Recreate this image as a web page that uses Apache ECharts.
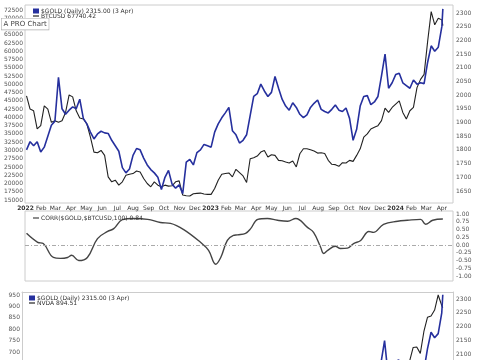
<!DOCTYPE html>
<html>
<head>
<meta charset="utf-8">
<script src="https://cdn.jsdelivr.net/npm/echarts@6/dist/echarts.min.js"></script>
<style>
html, body { margin: 0; padding: 0; background: #fff; }
#main { width: 485px; height: 360px; }
</style>
</head>
<body>
<div id="main"></div>
<script>
// weekly closes (Mondays) plus the last bar, 3 Apr 2024
var weeks = [
  '2022-01-03','2022-01-10','2022-01-17','2022-01-24','2022-01-31','2022-02-07','2022-02-14','2022-02-21','2022-02-28','2022-03-07',
  '2022-03-14','2022-03-21','2022-03-28','2022-04-04','2022-04-11','2022-04-18','2022-04-25','2022-05-02','2022-05-09','2022-05-16',
  '2022-05-23','2022-05-30','2022-06-06','2022-06-13','2022-06-20','2022-06-27','2022-07-04','2022-07-11','2022-07-18','2022-07-25',
  '2022-08-01','2022-08-08','2022-08-15','2022-08-22','2022-08-29','2022-09-05','2022-09-12','2022-09-19','2022-09-26','2022-10-03',
  '2022-10-10','2022-10-17','2022-10-24','2022-10-31','2022-11-07','2022-11-14','2022-11-21','2022-11-28','2022-12-05','2022-12-12',
  '2022-12-19','2022-12-26',
  '2023-01-02','2023-01-09','2023-01-16','2023-01-23','2023-01-30','2023-02-06','2023-02-13','2023-02-20','2023-02-27','2023-03-06',
  '2023-03-13','2023-03-20','2023-03-27','2023-04-03','2023-04-10','2023-04-17','2023-04-24','2023-05-01','2023-05-08','2023-05-15',
  '2023-05-22','2023-05-29','2023-06-05','2023-06-12','2023-06-19','2023-06-26','2023-07-03','2023-07-10','2023-07-17','2023-07-24',
  '2023-07-31','2023-08-07','2023-08-14','2023-08-21','2023-08-28','2023-09-04','2023-09-11','2023-09-18','2023-09-25','2023-10-02',
  '2023-10-09','2023-10-16','2023-10-23','2023-10-30','2023-11-06','2023-11-13','2023-11-20','2023-11-27','2023-12-04','2023-12-11',
  '2023-12-18','2023-12-25',
  '2024-01-01','2024-01-08','2024-01-15','2024-01-22','2024-01-29','2024-02-05','2024-02-12','2024-02-19','2024-02-26','2024-03-04',
  '2024-03-11','2024-03-18','2024-03-25','2024-04-01','2024-04-03'
];

var gold = [
  1800,1830,1815,1830,1792,1810,1850,1890,1905,2065,
  1950,1930,1945,1957,1950,1985,1915,1895,1865,1840,
  1858,1868,1862,1860,1835,1815,1795,1735,1716,1730,
  1780,1805,1800,1770,1745,1728,1716,1700,1655,1700,
  1725,1675,1660,1672,1640,1755,1765,1745,1790,1800,
  1820,1815,1810,1865,1895,1917,1935,1955,1870,1855,
  1825,1835,1855,1925,1995,2005,2040,2015,1995,2010,
  2068,2025,1985,1960,1945,1972,1955,1930,1918,1928,
  1955,1970,1982,1948,1940,1935,1948,1964,1945,1940,
  1953,1915,1835,1875,1960,1995,1998,1965,1975,1995,
  2070,2150,2025,2045,2075,2080,2045,2035,2025,2055,
  2040,2045,2042,2120,2180,2160,2175,2250,2315
];

var btc = [
  46500,42500,42000,36500,37500,43500,42500,38500,39000,38500,
  39000,41500,46800,46200,42000,39800,39500,38000,34000,29500,
  29300,30000,28500,22000,20500,21000,19500,20500,22500,22800,
  23000,23800,23500,21500,20000,19000,20500,19500,19000,19500,
  19200,19300,20500,20800,16500,16300,16200,16900,17000,17100,
  16800,16700,16700,18500,21000,22800,23000,23200,22000,24300,
  23300,22300,20300,27500,27800,28300,29500,30000,28000,28700,
  28500,27000,26900,26500,26200,26800,25000,29000,30500,30500,
  30200,29800,29200,29300,29100,27000,25800,25700,25200,26300,
  26200,27000,26700,28500,30500,34000,35000,36500,37000,37500,
  39000,42800,41500,43000,44000,45000,41500,39500,42000,43000,
  49000,51500,53000,63000,72000,68000,70000,69500,67740.42
];

var nvda = [
  300,270,250,230,245,250,245,235,240,215,
  235,265,275,245,220,210,190,190,170,175,
  170,190,185,160,165,155,160,155,170,175,
  185,185,185,170,150,140,135,130,122,125,
  115,125,135,140,160,160,165,170,165,175,
  152,146,
  148,168,177,200,210,215,215,232,235,230,
  255,265,275,270,270,270,275,285,285,310,
  385,400,390,425,420,420,425,455,445,465,
  445,410,435,460,485,455,440,415,435,455,
  455,415,405,450,485,490,480,465,465,490,
  480,495,
  480,545,595,610,660,720,722,694,790,852,
  858,884,950,903,894.51
];

var corrDates = [
  '2022-01-03','2022-01-25','2022-02-05','2022-02-25','2022-03-11','2022-03-25','2022-04-02','2022-04-16','2022-05-03','2022-05-23',
  '2022-06-12','2022-06-24','2022-07-11','2022-08-02','2022-08-30','2022-09-24','2022-10-14','2022-11-09','2022-12-12','2022-12-28',
  '2023-01-11','2023-01-21','2023-02-03','2023-02-15','2023-02-23','2023-03-11','2023-03-21','2023-04-04','2023-04-23','2023-05-13',
  '2023-06-02','2023-06-18','2023-07-11','2023-07-23','2023-08-06','2023-08-12','2023-08-20','2023-09-04','2023-09-14','2023-09-28',
  '2023-10-10','2023-10-24','2023-11-09','2023-11-18','2023-12-08','2024-01-05','2024-01-24','2024-02-19','2024-02-29','2024-03-14',
  '2024-04-03'
];
var corr = [
  0.38,0.09,0.05,-0.40,-0.43,-0.40,-0.33,-0.50,-0.40,0.21,
  0.44,0.53,0.82,0.86,0.83,0.73,0.70,0.50,0.09,-0.17,
  -0.62,-0.40,0.15,0.31,0.33,0.38,0.53,0.83,0.86,0.80,
  0.77,0.86,0.57,0.41,-0.07,-0.27,-0.17,-0.04,-0.11,-0.10,
  0.05,0.15,0.44,0.41,0.67,0.77,0.80,0.83,0.67,0.80,
  0.84
];

var btcTicks = [15000,17500,20000,22500,25000,27500,30000,32500,35000,37500,40000,42500,
  45000,47500,50000,52500,55000,57500,60000,62500,65000,67500,70000,72500];
var goldTicks = [1650,1700,1750,1800,1850,1900,1950,2000,2050,2100,2150,2200,2250,2300];
var corrTicks = [-1,-0.75,-0.5,-0.25,0,0.25,0.5,0.75,1];
var nvdaTicks = [700,750,800,850,900,950];
var goldLowTicks = [2100,2150,2200,2250,2300];

var goldName = '$GOLD (Daily) 2315.00 (3 Apr)';
var btcName = 'BTCUSD 67740.42';
var nvdaName = 'NVDA 894.51';
var corrName = 'CORR($GOLD,$BTCUSD,100) 0.84';

function pairs(d, v) {
    return d.map(function (t, i) { return [t, v[i]]; });
}

var font = 'DejaVu Sans';
var lineIcon = 'path://M0,0h10v2h-10z';
var edge = {show: true, lineStyle: {color: '#ccc', width: 1}};

function yAx(grid, pos, min, max, ticks, fmt, line) {
    return {
        type: 'value', gridIndex: grid, position: pos, min: min, max: max,
        axisLine: line ? edge : {show: false}, axisTick: {show: false}, splitLine: {show: false},
        axisLabel: {
            customValues: ticks, fontSize: 6, fontFamily: font, color: '#555',
            margin: pos == 'left' ? 2 : 3, formatter: fmt
        }
    };
}
var plain = function (v) { return String(v); };
var two = function (v) { return v.toFixed(2); };

var xMin = '2021-12-31', xMax = '2024-04-23';

var myChart = echarts.init(document.getElementById('main'));
var option = {
    backgroundColor: '#fff',
    animation: false,
    grid: [
        {left: 25, right: 32, top: 5, height: 198, show: true, borderColor: '#ccc', borderWidth: 1},
        {left: 25, right: 32, top: 211, height: 70, show: true, borderColor: '#ccc', borderWidth: 1},
        {left: 22, right: 32, top: 292, bottom: 0}
    ],
    legend: [
        {
            orient: 'vertical', left: 28, top: 3, itemGap: -1, itemWidth: 6, itemHeight: 5,
            textStyle: {fontSize: 6, fontFamily: font, color: '#333', lineHeight: 6, padding: [0, 0, 0, -3]},
            data: [{name: goldName, icon: 'rect'}, {name: btcName, icon: lineIcon}]
        },
        {
            orient: 'vertical', left: 28, top: 210, itemWidth: 6, itemHeight: 5,
            textStyle: {fontSize: 6, fontFamily: font, color: '#333', lineHeight: 6, padding: [0, 0, 0, -3]},
            data: [{name: corrName, icon: lineIcon}]
        },
        {
            orient: 'vertical', left: 24, top: 290, itemGap: -1, itemWidth: 6, itemHeight: 5,
            textStyle: {fontSize: 6, fontFamily: font, color: '#333', lineHeight: 6, padding: [0, 0, 0, -3]},
            data: [{name: goldName, icon: 'rect'}, {name: nvdaName, icon: lineIcon}]
        }
    ],
    xAxis: [
        {
            type: 'time', gridIndex: 0, min: xMin, max: xMax, splitNumber: 28,
            minInterval: 28 * 864e5, maxInterval: 31 * 864e5,
            axisLine: {show: false}, axisTick: {show: false}, splitLine: {show: false},
            axisLabel: {fontSize: 6, fontFamily: font, color: '#333', margin: 2, hideOverlap: false}
        },
        {type: 'time', gridIndex: 1, min: xMin, max: xMax, show: false},
        {
            type: 'time', gridIndex: 2, min: xMin, max: xMax, position: 'top',
            axisLine: edge, axisTick: {show: false}, axisLabel: {show: false}, splitLine: {show: false}
        }
    ],
    yAxis: [
        yAx(0, 'left', 14100, 74000, btcTicks, plain),
        yAx(0, 'right', 1606, 2329, goldTicks, plain),
        yAx(1, 'right', -1.16, 1.1, corrTicks, two),
        yAx(2, 'left', 665, 963, nvdaTicks, plain, true),
        yAx(2, 'right', 2080, 2325, goldLowTicks, plain, true)
    ],
    series: [
        {
            name: btcName, type: 'line', xAxisIndex: 0, yAxisIndex: 0, showSymbol: false,
            data: pairs(weeks, btc), itemStyle: {color: '#222'},
            lineStyle: {color: '#222', width: 1.1}
        },
        {
            name: goldName, type: 'line', xAxisIndex: 0, yAxisIndex: 1, showSymbol: false,
            data: pairs(weeks, gold), itemStyle: {color: '#26309e'},
            lineStyle: {color: '#26309e', width: 1.6}
        },
        {
            name: corrName, type: 'line', xAxisIndex: 1, yAxisIndex: 2, showSymbol: false, smooth: 0.4,
            data: pairs(corrDates, corr), itemStyle: {color: '#444'},
            lineStyle: {color: '#444', width: 1.4},
            markLine: {
                silent: true, symbol: 'none', label: {show: false},
                lineStyle: {color: '#aaa', width: 1, type: [4, 2, 1, 2]},
                data: [{yAxis: 0}]
            }
        },
        {
            name: nvdaName, type: 'line', xAxisIndex: 2, yAxisIndex: 3, showSymbol: false,
            data: pairs(weeks, nvda), itemStyle: {color: '#222'},
            lineStyle: {color: '#222', width: 1.1}
        },
        {
            name: goldName, type: 'line', xAxisIndex: 2, yAxisIndex: 4, showSymbol: false,
            data: pairs(weeks, gold), itemStyle: {color: '#26309e'},
            lineStyle: {color: '#26309e', width: 1.6}
        }
    ],
    graphic: [
        {
            type: 'text', left: 1, top: 18, z: 100,
            style: {
                text: 'A PRO Chart', fontSize: 7, fontFamily: font, fill: '#444',
                backgroundColor: '#fff', borderColor: '#aaa', borderWidth: 0.6, padding: [2, 2]
            }
        }
    ]
};
myChart.setOption(option);
</script>
</body>
</html>
